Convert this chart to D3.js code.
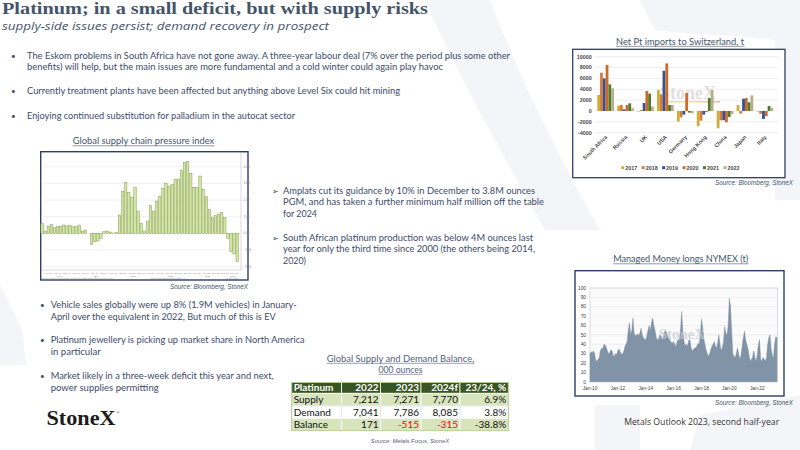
<!DOCTYPE html>
<html><head><meta charset="utf-8">
<script src="https://cdn.jsdelivr.net/npm/d3@7"></script>
<style>
html,body{margin:0;padding:0;background:#fff;}
svg{display:block;}
</style></head>
<body>
<svg id="c" width="800" height="450"></svg>
<script>
// ---------------- DATA ----------------
const titleText = "Platinum; in a small deficit, but with supply risks";
const subtitleText = "supply-side issues persist; demand recovery in prospect";

const topBullets = [
  ["The Eskom problems in South Africa have not gone away. A three-year labour deal (7% over the period plus some other",
   "benefits) will help, but the main issues are more fundamental and a cold winter could again play havoc"],
  ["Currently treatment plants have been affected but anything above Level Six could hit mining"],
  ["Enjoying continued substitution for palladium  in the autocat sector"]
];
const midBullets = [
  ["Amplats cut its guidance by 10% in December to 3.8M ounces",
   "PGM, and has taken a further minimum half million off the table",
   "for 2024"],
  ["South African platinum production was below 4M ounces last",
   "year for only the third time since 2000  (the others being 2014,",
   "2020)"]
];
const lowBullets = [
  ["Vehicle sales globally were up 8% (1.9M vehicles) in January-",
   "April over the equivalent in 2022, But much of this is EV"],
  ["Platinum jewellery is picking up market share in North America",
   "in particular"],
  ["Market likely in a three-week deficit this year and next,",
   " power supplies permitting"]
];

// Net Pt imports to Switzerland, t
const swissCountries = ["South Africa","Russia","UK","USA","Germany","Hong Kong","China","Japan","Italy"];
const swissYears = ["2017","2018","2019","2020","2021","2022"];
const swiss2017 = [2950, 980, -100, 3870, -1960, -2800, -3190, 1100, -100];
const swiss2018 = [7050, 1100, 200, 3070, -1170, -1780, -1720, -490, -500];
const swiss2019 = [6000, 300, 1470, 7420, -670, -670, -1700, 2270, -1470];
const swiss2020 = [8470, 1100, 3680, 8770, 3310, -200, -2090, 2390, -980];
const swiss2021 = [4900, 1400, 3190, 1100, -300, 2390, -1100, 1600, 920];
const swiss2022 = [4170, 500, 800, 1100, -430, 3870, -600, 2880, 600];
const swissTicks = [-4000,-2000,0,2000,4000,6000,8000,10000];

// Global supply chain pressure index (monthly, Jan 2018 onward)
const gscpiStartYear = 2018;
const gscpiValues = [
  0.60,0.14,0.44,0.54,0.36,0.40,0.40,0.50,0.44,0.48,0.40,0.40,
  0.50,0.14,0.20,0.00,-0.66,-0.50,-0.46,-0.30,0.10,0.14,0.08,0.02,
  0.06,1.10,2.50,3.06,2.46,2.16,2.74,1.34,0.60,0.14,0.74,1.66,
  1.34,1.94,2.20,2.70,3.00,2.84,2.94,3.24,3.26,3.80,4.24,4.30,
  3.60,2.74,2.76,3.44,2.64,2.20,1.44,0.94,1.06,1.16,1.24,0.94,
  -0.30,-1.10,-1.24,-1.70
];
const gscpiTicks = [-2,-1,0,1,2,3,4];
const gscpiMonthLabels = ["Mar","Jun","Sep","Dec"];

// Managed Money longs NYMEX (t), monthly from Jan 2010
const nymexStartYear = 2010;
const nymexLongs = [
  30,32,31,33,30,23,22,24,26,33,36,35,
  40,39,37,33,30,31,34,33,28,27,30,29,
  33,35,32,29,30,32,37,40,43,55,63,50,
  55,68,52,49,50,51,49,52,57,50,47,46,
  44,50,55,60,54,63,68,60,55,48,44,46,
  50,49,47,46,52,55,52,48,46,44,42,41,
  43,40,37,43,45,44,56,75,52,43,38,40,
  38,44,45,37,33,34,36,36,38,41,40,50,
  67,58,46,40,34,30,27,30,34,38,40,43,
  38,36,42,50,40,33,36,43,59,52,50,60,
  89,80,55,30,27,26,30,36,30,24,28,38,
  47,54,45,40,36,28,22,24,26,33,26,22,
  28,40,45,24,22,26,24,22,26,40,47,50,
  35,28,25,40,48,47
];
const nymexTicks = [0,10,20,30,40,50,60,70,80,90,100];
const nymexTickLabels = ["Jan-10","Jan-12","Jan-14","Jan-16","Jan-18","Jan-20","Jan-22"];

// Global Supply and Demand Balance, 000 ounces
const tableColumns = ["Platinum","2022","2023","2024f","23/24, %"];
const tableRowLabels = ["Supply","Demand","Balance"];
const tableSupply = ["7,212","7,271","7,770","6.9%"];
const tableDemand = ["7,041","7,786","8,085","3.8%"];
const tableBalance = ["171","-515","-315","-38.8%"];

// ---------------- LAYOUT / STYLE ----------------
const NAVY = "#44546A";
const TEXT = "#404B69";
const BOX = "#2F3E63";
const svg = d3.select("#c");

// faint background watermark shapes
const bg = svg.append("g").attr("fill", "#f4f5f8");
bg.append("path").attr("d", "M425,0 L490,0 C520,80 560,160 600,230 L545,230 C500,150 455,70 425,0 Z");
bg.append("path").attr("d", "M640,0 L800,0 L800,200 L775,200 L775,40 C740,35 690,35 655,30 Z");
bg.append("path").attr("d", "M0,285 L22,330 L26,365 L0,365 Z");
bg.append("path").attr("d", "M595,405 L640,405 L640,450 L595,450 Z");
bg.append("path").attr("d", "M700,415 L800,395 L800,450 L690,450 Z");

// helper
function line(g, x, y, str, o) {
  const t = g.append("text").attr("x", x).attr("y", y).text(str)
    .attr("font-family", o.family || "Lato, 'Open Sans', sans-serif")
    .attr("font-size", o.size)
    .attr("fill", o.fill || TEXT);
  if (o.weight) t.attr("font-weight", o.weight);
  if (o.style) t.attr("font-style", o.style);
  if (o.anchor) t.attr("text-anchor", o.anchor);
  if (o.w) t.attr("textLength", o.w).attr("lengthAdjust", "spacingAndGlyphs");
  return t;
}
function underline(g, t, dy, color) {
  const b = t.node().getBBox();
  g.append("line").attr("x1", b.x).attr("x2", b.x + b.width)
    .attr("y1", +t.attr("y") + dy).attr("y2", +t.attr("y") + dy)
    .attr("stroke", color).attr("stroke-width", 0.6);
}

// Title
line(svg, 2, 14, titleText, {family: "'Liberation Serif', 'DejaVu Serif', serif", size: 17, weight: "bold", fill: NAVY, w: 426});
line(svg, 2, 29.5, subtitleText, {family: "'Open Sans', sans-serif", size: 11.5, style: "italic", fill: NAVY, w: 327});

// Top bullets
const topLayout = [{y: [58.5, 69.5], w: [483, 416]}, {y: [94], w: [373]}, {y: [118.5], w: [268]}];
topBullets.forEach((b, i) => {
  line(svg, 11, topLayout[i].y[0], "\u2022", {size: 8, fill: TEXT});
  b.forEach((s, j) => line(svg, 27, topLayout[i].y[j], s, {size: 9.4, w: topLayout[i].w[j]}));
});

// Middle arrow bullets
const midLayout = [{y: [193.5, 205, 216.8], w: [252, 261, 34]}, {y: [241, 252.3, 264], w: [250, 252, 23]}];
midBullets.forEach((b, i) => {
  line(svg, 272, midLayout[i].y[0], "\u27A2", {family: "'DejaVu Sans', sans-serif", size: 8, fill: TEXT});
  b.forEach((s, j) => line(svg, 283, midLayout[i].y[j], s, {size: 10, w: midLayout[i].w[j]}));
});

// Lower-left bullets
const lowLayout = [{y: [307.5, 319.5], w: [246, 225]}, {y: [343, 355], w: [254, 50]}, {y: [379, 391], w: [223, 108]}];
lowBullets.forEach((b, i) => {
  line(svg, 40, lowLayout[i].y[0], "\u2022", {size: 8, fill: TEXT});
  b.forEach((s, j) => line(svg, 50.7, lowLayout[i].y[j], s, {size: 10, w: lowLayout[i].w[j]}));
});

// StoneX logo
line(svg, 46.5, 424.5, "StoneX", {family: "'Liberation Serif', serif", size: 20, weight: "bold", fill: "#1c1c1c", w: 69});
line(svg, 116.5, 414, "\u00AE", {family: "'Liberation Serif', serif", size: 4, fill: "#1c1c1c"});

// ---------------- Global supply chain pressure index ----------------
{
  const g = svg.append("g");
  const t = line(g, 143.5, 144, "Global supply chain pressure index", {size: 9.5, fill: NAVY, anchor: "middle", w: 141.6});
  underline(g, t, 1.8, NAVY);
  g.append("rect").attr("x", 40.7).attr("y", 151.7).attr("width", 207.3).attr("height", 128.3)
    .attr("fill", "#fff").attr("stroke", BOX).attr("stroke-width", 1.4);
  const x = d3.scaleBand().domain(d3.range(gscpiValues.length)).range([40.9, 238.4]).paddingInner(0.22);
  const y = d3.scaleLinear().domain([-2, 4]).range([266.7, 166.7]);
  g.append("g").selectAll("line").data(gscpiTicks).join("line")
    .attr("x1", 41.5).attr("x2", 241).attr("y1", d => y(d)).attr("y2", d => y(d))
    .attr("stroke", "#e6e6e6").attr("stroke-width", 0.6);
  g.append("line").attr("x1", 241).attr("x2", 241).attr("y1", 152.5).attr("y2", 270).attr("stroke", "#b5b5b5").attr("stroke-width", 0.5);
  g.append("line").attr("x1", 41.5).attr("x2", 241).attr("y1", 270).attr("y2", 270).attr("stroke", "#b5b5b5").attr("stroke-width", 0.5);
  g.append("g").selectAll("text").data(gscpiTicks).join("text")
    .attr("x", 243.5).attr("y", d => y(d) + 1).text(d => d3.format(".2f")(d))
    .attr("font-family", "Arial, sans-serif").attr("font-size", 3).attr("fill", "#888");
  g.append("g").selectAll("rect").data(gscpiValues).join("rect")
    .attr("x", (d, i) => x(i)).attr("width", x.bandwidth())
    .attr("y", d => y(Math.max(0, d))).attr("height", d => Math.abs(y(d) - y(0)))
    .attr("fill", "#d3e6a8").attr("stroke", "#7d9448").attr("stroke-width", 0.45);
  // tiny axis labels
  const ax = g.append("g").attr("font-family", "Arial, sans-serif").attr("fill", "#8a8a8a");
  gscpiValues.forEach((d, i) => {
    if (i % 3 === 2) {
      const yr = String(gscpiStartYear + Math.floor(i / 12)).slice(2);
      ax.append("text").attr("x", x(i) + x.bandwidth() / 2).attr("y", 273.5).attr("text-anchor", "middle")
        .attr("font-size", 2.4).text(gscpiMonthLabels[(i % 12 - 2) / 3] + " " + yr);
    }
  });
  const nYears = Math.ceil(gscpiValues.length / 12);
  for (let k = 0; k < nYears; k++) {
    const i0 = k * 12, i1 = Math.min(gscpiValues.length - 1, k * 12 + 11);
    ax.append("text").attr("x", (x(i0) + x(i1) + x.bandwidth()) / 2).attr("y", 276.5).attr("text-anchor", "middle")
      .attr("font-size", 2.4).text(gscpiStartYear + k);
  }
  ax.append("text").attr("x", 42).attr("y", 279).attr("font-size", 2).text("Source: Federal Reserve Bank of New York  Global Supply Chain Pressure Index");
  ax.append("text").attr("x", 150).attr("y", 279).attr("font-size", 2).text("Copyright 2023 Bloomberg Finance L.P.");
  ax.append("text").attr("x", 226).attr("y", 279).attr("font-size", 2).text("30-May-2023");
  line(g, 248, 288.5, "Source:  Bloomberg,  StoneX", {family: "Arial, sans-serif", size: 6.3, style: "italic", fill: NAVY, anchor: "end"});
}

// ---------------- Net Pt imports to Switzerland ----------------
{
  const g = svg.append("g");
  const t = line(g, 680, 44.5, "Net Pt imports to Switzerland, t", {size: 9.5, fill: NAVY, anchor: "middle", w: 128});
  underline(g, t, 1.8, NAVY);
  g.append("rect").attr("x", 572.7).attr("y", 49.3).attr("width", 212.3).attr("height", 128.4)
    .attr("fill", "#fff").attr("stroke", BOX).attr("stroke-width", 1.3);
  const y = d3.scaleLinear().domain([-4000, 10000]).range([132.7, 56.7]);
  const x0 = d3.scaleBand().domain(swissCountries).range([595.7, 774.8]).paddingInner(0.16).paddingOuter(0.08);
  const x1 = d3.scaleBand().domain(swissYears).range([0, x0.bandwidth()]);
  const series = [swiss2017, swiss2018, swiss2019, swiss2020, swiss2021, swiss2022];
  const colors = ["#CDAE3C", "#D9793A", "#2D5597", "#D0692A", "#4E7A2B", "#B8AC8A"];
  g.append("g").selectAll("line").data(swissTicks).join("line")
    .attr("x1", 595).attr("x2", 778.3).attr("y1", d => y(d)).attr("y2", d => y(d))
    .attr("stroke", "#e3e3e3").attr("stroke-width", 0.6);
  g.append("g").selectAll("text").data(swissTicks).join("text")
    .attr("x", 591.7).attr("y", d => y(d) + 1.9).attr("text-anchor", "end").text(d => d)
    .attr("font-family", "Arial, sans-serif").attr("font-size", 5.4).attr("font-weight", "bold").attr("fill", "#4a4a4a");
  // watermark
  line(g, 688, 99, "StoneX", {family: "'Liberation Serif', serif", size: 18, weight: "bold", fill: "#d9d9d9", anchor: "middle"}).attr("opacity", 0.8);
  const grad = svg.append("defs").append("linearGradient").attr("id", "wm");
  [["0%", "#9fcf7a"], ["50%", "#f0d36a"], ["100%", "#e28a6a"]].forEach(s => grad.append("stop").attr("offset", s[0]).attr("stop-color", s[1]));
  g.append("rect").attr("x", 658).attr("y", 101).attr("width", 62).attr("height", 1.6).attr("fill", "url(#wm)").attr("opacity", 0.6);
  series.forEach((s, k) => {
    g.append("g").selectAll("rect").data(s).join("rect")
      .attr("x", (d, i) => x0(swissCountries[i]) + x1(swissYears[k]))
      .attr("width", x1.bandwidth())
      .attr("y", d => y(Math.max(0, d)))
      .attr("height", d => Math.abs(y(d) - y(0)))
      .attr("fill", colors[k]);
  });
  g.append("g").selectAll("text").data(swissCountries).join("text")
    .attr("transform", d => `translate(${x0(d) + x0.bandwidth() / 2 + 2},${137.5}) rotate(-45)`)
    .attr("text-anchor", "end").text(d => d)
    .attr("font-family", "Arial, sans-serif").attr("font-size", 5.4).attr("font-weight", "bold").attr("fill", "#4a4a4a");
  const lx = d3.scalePoint().domain(swissYears).range([622.7, 725]);
  const leg = g.append("g").selectAll("g").data(swissYears).join("g")
    .attr("transform", d => `translate(${lx(d)},167.7)`);
  leg.append("rect").attr("x", -1.5).attr("y", -1.5).attr("width", 3).attr("height", 3).attr("fill", (d, i) => colors[i]);
  leg.append("text").attr("x", 2.5).attr("y", 2).text(d => d)
    .attr("font-family", "Arial, sans-serif").attr("font-size", 5.4).attr("font-weight", "bold").attr("fill", "#4a4a4a");
  line(g, 793, 185, "Source:  Bloomberg,  StoneX", {family: "Arial, sans-serif", size: 6.3, style: "italic", fill: NAVY, anchor: "end"});
}

// ---------------- Managed Money longs NYMEX ----------------
{
  const g = svg.append("g");
  const t = line(g, 680.7, 262, "Managed Money longs NYMEX (t)", {size: 9.5, fill: NAVY, anchor: "middle", w: 135});
  underline(g, t, 1.8, NAVY);
  g.append("rect").attr("x", 575).attr("y", 270.7).attr("width", 209).attr("height", 125.3)
    .attr("fill", "#fff").attr("stroke", BOX).attr("stroke-width", 1.4);
  const x = d3.scaleTime().domain([new Date(2010, 0, 1), new Date(2023, 5, 16)]).range([590, 777.5]);
  const y = d3.scaleLinear().domain([0, 100]).range([381.8, 288]);
  g.append("rect").attr("x", 590).attr("y", 288).attr("width", 187.5).attr("height", 93.8)
    .attr("fill", "#fbfbfb").attr("stroke", "#c4c4c4").attr("stroke-width", 0.6);
  g.append("g").selectAll("line").data(nymexTicks.slice(1)).join("line")
    .attr("x1", 590).attr("x2", 777.5).attr("y1", d => y(d)).attr("y2", d => y(d))
    .attr("stroke", "#e2e2e2").attr("stroke-width", 0.5);
  const pts = nymexLongs.map((v, i) => ({d: new Date(nymexStartYear, i, 1), v}));
  g.append("path").datum(pts)
    .attr("d", d3.area().x(p => x(p.d)).y0(y(0)).y1(p => y(p.v)))
    .attr("fill", "#8193A7").attr("stroke", "#73859a").attr("stroke-width", 0.4);
  line(g, 682, 339, "StoneX", {family: "'Liberation Serif', serif", size: 15, weight: "bold", fill: "#c3cad3", anchor: "middle"}).attr("opacity", 0.7);
  g.append("g").selectAll("text").data(nymexTicks).join("text")
    .attr("x", 586).attr("y", d => y(d) + 1.7).attr("text-anchor", "end").text(d => d)
    .attr("font-family", "Arial, sans-serif").attr("font-size", 4.8).attr("fill", "#404040");
  g.append("g").selectAll("text").data(nymexTickLabels).join("text")
    .attr("x", (d, i) => x(new Date(nymexStartYear + 2 * i, 0, 1))).attr("y", 389.5)
    .attr("text-anchor", "middle").text(d => d)
    .attr("font-family", "Arial, sans-serif").attr("font-size", 4.8).attr("fill", "#404040");
  line(g, 793, 404.5, "Source:  Bloomberg,  StoneX", {family: "Arial, sans-serif", size: 6.3, style: "italic", fill: NAVY, anchor: "end"});
  line(svg, 701.7, 424.5, "Metals Outlook 2023, second half-year", {family: "'Open Sans', sans-serif", size: 9.5, fill: "#333", anchor: "middle", w: 155});
}

// ---------------- Supply / demand table ----------------
{
  const g = svg.append("g");
  const t1 = line(g, 400.5, 361.5, "Global Supply and Demand Balance,", {size: 9.5, fill: "#55607a", anchor: "middle", w: 147.6});
  underline(g, t1, 1.8, "#55607a");
  const t2 = line(g, 400.5, 372.5, "000 ounces", {size: 9.5, fill: "#55607a", anchor: "middle", w: 44});
  underline(g, t2, 1.8, "#55607a");
  const colEdges = [291.7, 341.5, 380.5, 421, 460, 508.3];
  const rowEdges = [382.3, 393.3, 406, 418.3, 430.7];
  const rows = [tableColumns, [tableRowLabels[0]].concat(tableSupply), [tableRowLabels[1]].concat(tableDemand), [tableRowLabels[2]].concat(tableBalance)];
  const fills = ["#375623", "#D8E4BC", "#ffffff", "#D8E4BC"];
  rows.forEach((r, ri) => {
    r.forEach((cell, ci) => {
      g.append("rect").attr("x", colEdges[ci]).attr("y", rowEdges[ri])
        .attr("width", colEdges[ci + 1] - colEdges[ci]).attr("height", rowEdges[ri + 1] - rowEdges[ri])
        .attr("fill", fills[ri]).attr("stroke", ri === 2 ? "#e4e4e4" : "#ffffff").attr("stroke-width", 0.8);
      const isRed = ri === 3 && ci > 0 && ci < 4 && cell.startsWith("-");
      const tx = ci === 0 ? colEdges[0] + 2 : colEdges[ci + 1] - 2;
      g.append("text").attr("x", tx).attr("y", rowEdges[ri + 1] - 2.6)
        .attr("text-anchor", ci === 0 ? "start" : "end").text(cell)
        .attr("font-family", "Lato, 'Open Sans', sans-serif").attr("font-size", 10)
        .attr("font-weight", ri === 0 ? "bold" : "normal")
        .attr("fill", ri === 0 ? "#ffffff" : (isRed ? "#FF0000" : "#111"));
    });
  });
  g.append("rect").attr("x", colEdges[0]).attr("y", rowEdges[0]).attr("width", colEdges[5] - colEdges[0])
    .attr("height", rowEdges[4] - rowEdges[0]).attr("fill", "none").attr("stroke", "#a9c27c").attr("stroke-width", 0.8);
  line(g, 410, 443, "Source:  Metals Focus, StoneX", {family: "Arial, sans-serif", size: 5.8, style: "italic", fill: "#55607a", anchor: "middle"});
}
</script>
</body></html>
